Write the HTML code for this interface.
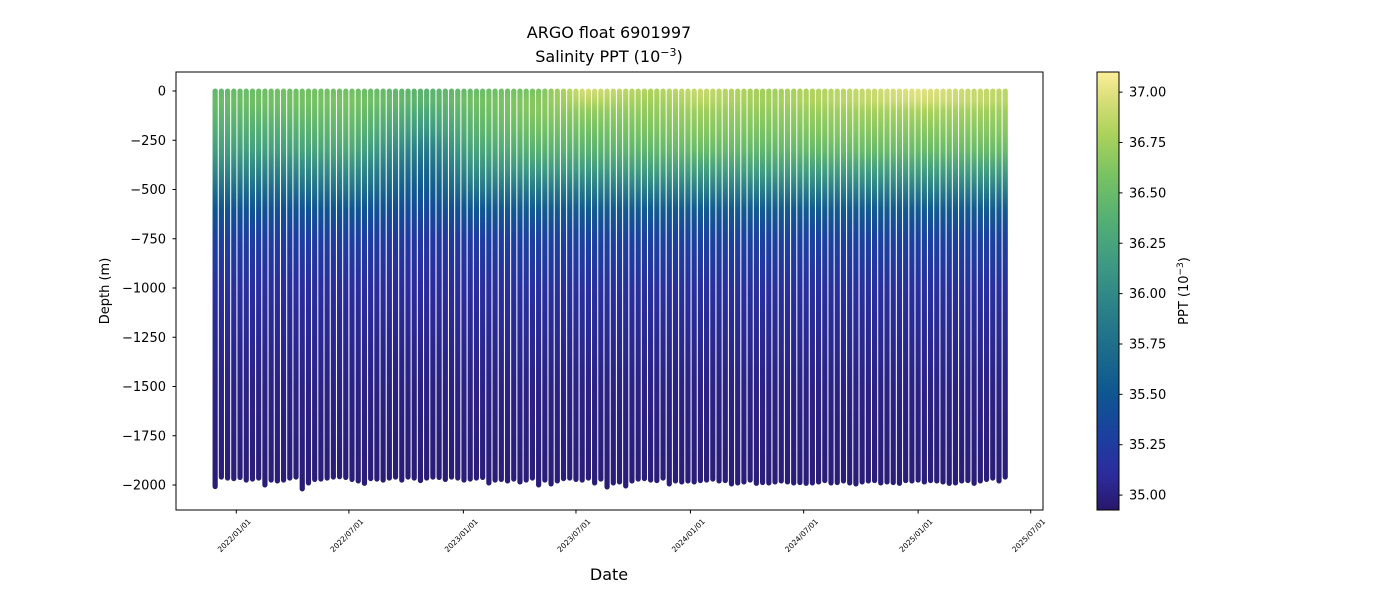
<!DOCTYPE html>
<html><head><meta charset="utf-8">
<style>
html,body{margin:0;padding:0;background:#fff;}
svg{display:block;font-family:"DejaVu Sans","Liberation Sans",sans-serif;}
</style></head>
<body>
<svg id="chart" width="1400" height="600" viewBox="0 0 1400 600" xmlns="http://www.w3.org/2000/svg">
<defs id="defs"></defs>
<rect x="0" y="0" width="1400" height="600" fill="#fff"/>
<text x="609" y="38" font-size="16" text-anchor="middle" fill="#000">ARGO float 6901997</text>
<text x="609" y="62" font-size="16" text-anchor="middle" fill="#000">Salinity PPT (10<tspan baseline-shift="super" font-size="11">−3</tspan>)</text>
<g id="marks"></g>
<rect x="176" y="72" width="867" height="438" fill="none" stroke="#000" stroke-width="1"/>
<g id="yaxis"></g>
<g id="xaxis"></g>
<text x="0" y="0" font-size="13" text-anchor="middle" transform="translate(109,291) rotate(-90)">Depth (m)</text>
<text x="609" y="580" font-size="16" text-anchor="middle">Date</text>
<g id="cbar"></g>
<text x="0" y="0" font-size="13" text-anchor="middle" transform="translate(1188,291) rotate(-90)">PPT (10<tspan baseline-shift="super" font-size="9">−3</tspan>)</text>
</svg>
<script>
// ---- data ----
const firstProfileDate = "2021-11-28";
const cycleDays = 10;
const maxDepths = [-2008,-1960,-1965,-1968,-1962,-1975,-1970,-1965,-2000,-1975,-1980,-1975,-1965,-1960,-2020,-1990,-1972,-1970,-1965,-1960,-1958,-1962,-1972,-1980,-1992,-1968,-1970,-1975,-1965,-1960,-1975,-1960,-1965,-1978,-1965,-1960,-1962,-1972,-1960,-1965,-1975,-1970,-1965,-1962,-1990,-1975,-1972,-1980,-1970,-1985,-1975,-1965,-2000,-1975,-1995,-1980,-1968,-1965,-1972,-1975,-1965,-1990,-1970,-2010,-1990,-1985,-2005,-1980,-1970,-1968,-1975,-1978,-1965,-1995,-1980,-1985,-1980,-1985,-1978,-1975,-1970,-1980,-1978,-1995,-1990,-1985,-1975,-1992,-1988,-1990,-1985,-1980,-1985,-1990,-1988,-1992,-1990,-1985,-1978,-1990,-1988,-1980,-1990,-1995,-1985,-1980,-1978,-1990,-1985,-1988,-1992,-1978,-1980,-1975,-1985,-1978,-1980,-1985,-1992,-1990,-1980,-1978,-1992,-1980,-1972,-1965,-1980,-1960];
const depthLevels = [0,50,100,200,300,400,500,600,750,1000,1500,2000];
const knotDates = ["2021-11-25","2022-03-01","2022-07-01","2022-11-01","2023-01-15","2023-05-01","2023-07-15","2023-11-01","2024-01-15","2024-05-01","2024-09-01","2025-01-01","2025-05-20"];
const salinityByKnot = [
 [36.45,36.50,36.45,36.35,36.20,36.00,35.75,35.50,35.30,35.15,35.02,34.97],
 [36.55,36.55,36.50,36.35,36.20,35.95,35.70,35.45,35.25,35.12,35.02,34.97],
 [36.55,36.60,36.55,36.45,36.30,36.05,35.80,35.50,35.28,35.12,35.02,34.97],
 [36.40,36.40,36.30,36.10,35.85,35.65,35.50,35.38,35.20,35.10,35.00,34.96],
 [36.50,36.55,36.50,36.40,36.25,36.05,35.80,35.50,35.25,35.12,35.02,34.97],
 [36.60,36.65,36.65,36.55,36.40,36.15,35.85,35.55,35.30,35.15,35.02,34.97],
 [36.95,36.85,36.70,36.55,36.40,36.15,35.85,35.55,35.30,35.15,35.02,34.97],
 [36.80,36.75,36.70,36.60,36.45,36.20,35.90,35.55,35.30,35.15,35.02,34.97],
 [36.90,36.85,36.75,36.65,36.50,36.20,35.90,35.55,35.30,35.15,35.02,34.97],
 [36.75,36.75,36.70,36.60,36.45,36.20,35.90,35.55,35.30,35.15,35.02,34.97],
 [36.85,36.85,36.75,36.65,36.50,36.20,35.90,35.55,35.30,35.15,35.02,34.97],
 [37.00,36.95,36.80,36.65,36.50,36.20,35.90,35.55,35.30,35.15,35.02,34.97],
 [36.85,36.85,36.75,36.65,36.50,36.20,35.90,35.55,35.30,35.15,35.02,34.97]
];
const yTicks = [0,-250,-500,-750,-1000,-1250,-1500,-1750,-2000];
const xTickLabels = ["2022/01/01","2022/07/01","2023/01/01","2023/07/01","2024/01/01","2024/07/01","2025/01/01","2025/07/01"];
const cbarTicks = [35.00,35.25,35.50,35.75,36.00,36.25,36.50,36.75,37.00];
const vmin = 34.926, vmax = 37.10;

// ---- scales ----
const NS="http://www.w3.org/2000/svg";
const DAY=86400000;
const t0 = Date.UTC(2022,0,1);
function dayOf(s){const p=s.split(/[-\/]/).map(Number);return (Date.UTC(p[0],p[1]-1,p[2])-t0)/DAY;}
function xScale(day){return 236.3 + day*0.6221;}
function yScale(d){return 91 + (-d)*0.197;}
function cY(v){return 72 + (vmax - v)/(vmax-vmin)*438;}
const cmapStops=[[0,"#29186b"],[0.08,"#2c2b9c"],[0.16,"#1d3ea0"],[0.26,"#0e5591"],[0.36,"#1c6b8b"],[0.46,"#2b8188"],[0.56,"#3d9983"],[0.66,"#54af74"],[0.76,"#76c263"],[0.86,"#acd25c"],[0.94,"#dade7a"],[1,"#fdef9a"]];
function hex(h){return [1,3,5].map(i=>parseInt(h.substr(i,2),16));}
function cmap(v){
  let t=Math.max(0,Math.min(1,(v-vmin)/(vmax-vmin)));
  for(let i=1;i<cmapStops.length;i++){
    if(t<=cmapStops[i][0]){
      const a=cmapStops[i-1],b=cmapStops[i];const f=(t-a[0])/(b[0]-a[0]);
      const ca=hex(a[1]),cb=hex(b[1]);
      return "rgb("+ca.map((c,k)=>Math.round(c+(cb[k]-c)*f)).join(",")+")";
    }
  }
  return cmapStops[cmapStops.length-1][1];
}
function salinityAt(day,level){
  const kd=knotDates.map(dayOf);
  if(day<=kd[0]) return salinityByKnot[0][level];
  for(let i=1;i<kd.length;i++){
    if(day<=kd[i]){const f=(day-kd[i-1])/(kd[i]-kd[i-1]);return salinityByKnot[i-1][level]+(salinityByKnot[i][level]-salinityByKnot[i-1][level])*f;}
  }
  return salinityByKnot[kd.length-1][level];
}
function mk(tag,attrs,parent){const e=document.createElementNS(NS,tag);for(const k in attrs)e.setAttribute(k,attrs[k]);parent.appendChild(e);return e;}

// ---- profiles ----
const defs=document.getElementById('defs');
const marks=document.getElementById('marks');
const startDay=dayOf(firstProfileDate);
maxDepths.forEach((md,i)=>{
  const day=startDay+i*cycleDays;
  const cx=xScale(day);
  const gid="pg"+i;
  const y0=yScale(0)-2.5, y1=yScale(md)+2.5;
  const grad=mk('linearGradient',{id:gid,x1:0,y1:y0,x2:0,y2:y1,gradientUnits:"userSpaceOnUse"},defs);
  depthLevels.forEach((d,l)=>{
    const off=Math.max(0,Math.min(1,(yScale(-d)-y0)/(y1-y0)));
    mk('stop',{offset:off,'stop-color':cmap(salinityAt(day,l))},grad);
  });
  const r=mk('rect',{x:cx-2.6,y:y0,width:5.2,height:y1-y0,rx:2.6,fill:"url(#"+gid+")"},marks);
  
  
});

// ---- y axis ----
const ya=document.getElementById('yaxis');
yTicks.forEach(v=>{
  const y=yScale(v);
  const l=mk('line',{x1:172.5,x2:176,y1:y,y2:y,stroke:"#000"},ya);
  
  
  const t=mk('text',{x:166,y:y+4.5,'font-size':13,'text-anchor':'end'},ya);
  t.textContent=String(v).replace('-','−');
  
  
});
// ---- x axis ----
const xa=document.getElementById('xaxis');
xTickLabels.forEach(s=>{
  const x=xScale(dayOf(s));
  const l=mk('line',{x1:x,x2:x,y1:510,y2:513.5,stroke:"#000"},xa);
  
  
  const t=mk('text',{x:0,y:0,'font-size':7.5,'text-anchor':'end',transform:"translate("+(x+15)+",522) rotate(-45)"},xa);
  t.textContent=s;
  
  
});
// ---- colorbar ----
const cb=document.getElementById('cbar');
const cg=mk('linearGradient',{id:"cbg",x1:0,y1:1,x2:0,y2:0},defs);
cmapStops.forEach(s=>mk('stop',{offset:s[0],'stop-color':s[1]},cg));
const cr=mk('rect',{x:1097,y:72,width:22,height:438,fill:"url(#cbg)",stroke:"#000","stroke-width":1},cb);


cbarTicks.forEach(v=>{
  const y=cY(v);
  const l=mk('line',{x1:1119,x2:1122.5,y1:y,y2:y,stroke:"#000"},cb);
  
  
  const t=mk('text',{x:1129,y:y+4.5,'font-size':13},cb);
  t.textContent=v.toFixed(2);
  
  
});
</script>
</body></html>
